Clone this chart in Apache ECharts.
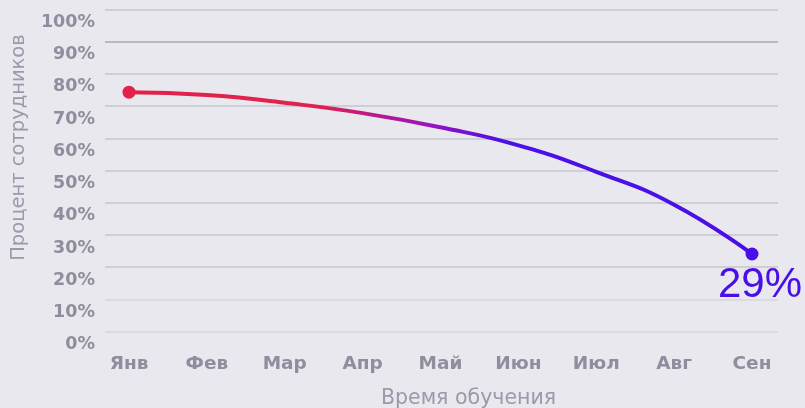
<!DOCTYPE html>
<html><head><meta charset="utf-8">
<script src="https://cdn.jsdelivr.net/npm/echarts@6/dist/echarts.min.js"></script>
<style>html,body{margin:0;padding:0;background:#e8e8ee;}#c{width:805px;height:408px;}</style>
</head><body><div id="c"></div>
<script>
const categories = ['Янв','Фев','Мар','Апр','Май','Июн','Июл','Авг','Сен'];
const values = [74.3, 73.4, 71.0, 67.8, 63.4, 57.8, 49.6, 39.4, 24.1];
const endLabelText = '29%';
const yAxisName = 'Процент сотрудников';
const xAxisName = 'Время обучения';

const chart = echarts.init(document.getElementById('c'));
const labelFont = 'DejaVu Sans';
const data = values.map((v, i) => {
  if (i === 0) return {value: v, symbol: 'circle', symbolSize: 13, itemStyle: {color: '#e2224b'}};
  if (i === values.length - 1) return {value: v, symbol: 'circle', symbolSize: 13, itemStyle: {color: '#4a0fe8'},
    label: {show: true, position: 'bottom', distance: 4, offset: [8, 0], formatter: endLabelText,
      color: '#4a0fe8', fontSize: 42, fontFamily: 'Liberation Sans', lineHeight: 42}};
  return {value: v, symbol: 'none'};
});
chart.setOption({
  backgroundColor: '#e8e8ee',
  animation: false,
  grid: [
    {left: 105, right: 27, top: 9.3, bottom: 76.3, containLabel: false, outerBoundsMode: 'none'},
    {left: 129, right: 53, top: 9.3, bottom: 76.3, containLabel: false, outerBoundsMode: 'none'}
  ],
  xAxis: [
    {gridIndex: 0, type: 'value', min: 0, max: 1, show: false},
    {gridIndex: 1, type: 'category', data: categories, boundaryGap: false,
      axisLine: {show: false}, axisTick: {show: false},
      axisLabel: {color: '#8f8d9e', fontSize: 18.5, fontWeight: 'bold', fontFamily: labelFont, margin: 22, lineHeight: 20, verticalAlign: 'top'},
      name: xAxisName, nameLocation: 'middle', nameGap: 56, nameMoveOverlap: false,
      nameTextStyle: {color: '#9b99aa', fontSize: 20.5, fontFamily: labelFont, fontWeight: 'normal', padding: [0, 0, 0, 56]}},
  ],
  yAxis: [
    {gridIndex: 0, type: 'value', min: 0, max: 100, interval: 10,
      axisLine: {show: false}, axisTick: {show: false},
      axisLabel: {formatter: '{value}%', color: '#8f8d9e', fontSize: 17.5, fontWeight: 'bold', fontFamily: labelFont,
        margin: 10, verticalAlign: 'top', lineHeight: 26},
      splitLine: {show: true, lineStyle: {width: 1.5, color: ['#d6d6dc','#d6d6dc','#c6c6cc','#c6c6cc','#c6c6cc','#c6c6cc','#c6c6cc','#c6c6cc','#c6c6cc','#a9a9b1','#c6c6cc']}},
      name: yAxisName, nameLocation: 'middle', nameGap: 76, nameRotate: 90, nameMoveOverlap: false,
      nameTextStyle: {color: '#9b99aa', fontSize: 19.5, fontFamily: labelFont, fontWeight: 'normal', padding: [0, 0, 0, 46]}},
    {gridIndex: 1, type: 'value', min: 0, max: 100, show: false}
  ],
  series: [{
    type: 'line', xAxisIndex: 1, yAxisIndex: 1, smooth: 0.5, data: data,
    lineStyle: {width: 4, color: {type: 'linear', x: 0, y: 0, x2: 1, y2: 0,
      colorStops: [{offset: 0, color: '#e2224b'}, {offset: 0.3, color: '#df2250'}, {offset: 0.48, color: '#9a14bd'}, {offset: 0.6, color: '#4d0fe6'}, {offset: 1, color: '#4a0fe8'}]}}
  }]
});
</script></body></html>
